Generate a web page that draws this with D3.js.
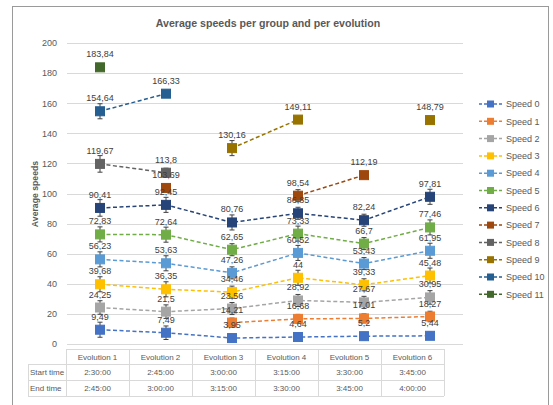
<!DOCTYPE html>
<html><head><meta charset="utf-8">
<script src="https://cdn.jsdelivr.net/npm/d3@7"></script>
<style>body{margin:0;background:#fff}svg{display:block}text{font-family:"Liberation Sans",Arial,sans-serif}</style>
</head><body><svg id="c" width="553" height="405"></svg>
<script>
const categories = ["Evolution 1","Evolution 2","Evolution 3","Evolution 4","Evolution 5","Evolution 6"];
const startTimes = ["2:30:00","2:45:00","3:00:00","3:15:00","3:30:00","3:45:00"];
const endTimes = ["2:45:00","3:00:00","3:15:00","3:30:00","3:45:00","4:00:00"];
const yTicks = [0,20,40,60,80,100,120,140,160,180,200];
const seriesNames = ["Speed 0","Speed 1","Speed 2","Speed 3","Speed 4","Speed 5","Speed 6","Speed 7","Speed 8","Speed 9","Speed 10","Speed 11"];
const seriesColors = ["#4472C4","#ED7D31","#A5A5A5","#FFC000","#5B9BD5","#70AD47","#264478","#9E480E","#636363","#997300","#255E91","#43682B"];
const speed0 = [9.49, 7.49, 3.95, 4.64, 5.2, 5.44];
const speed1 = [null, null, 14.21, 16.68, 17.01, 18.27];
const speed2 = [24.25, 21.5, 23.56, 28.92, 27.67, 30.95];
const speed3 = [39.68, 36.35, 34.46, 44, 39.33, 45.48];
const speed4 = [56.23, 53.63, 47.26, 60.52, 53.43, 61.95];
const speed5 = [72.83, 72.64, 62.65, 73.33, 66.7, 77.46];
const speed6 = [90.41, 92.45, 80.76, 86.85, 82.24, 97.81];
const speed7 = [null, 103.69, null, 98.54, 112.19, null];
const speed8 = [119.67, 113.8, null, null, null, null];
const speed9 = [null, null, 130.16, 149.11, null, 148.79];
const speed10 = [154.64, 166.33, null, null, null, null];
const speed11 = [183.84, null, null, null, null, null];
const err0 = [5, 4.5, 2.5, 2.5, 2.5, 2.5];
const err1 = [0, 0, 3, 3, 3, 3.5];
const err2 = [4.5, 4.5, 4, 4, 4, 4.5];
const err3 = [5, 5, 4, 5, 4, 5];
const err4 = [5, 5, 4, 5, 4, 5];
const err5 = [5, 5, 4, 5, 4, 5];
const err6 = [5.5, 5, 5, 4, 4, 5];
const err7 = [0, 0, 0, 4, 0, 0];
const err8 = [5.5, 3, 0, 0, 0, 0];
const err9 = [0, 0, 5, 0, 0, 0];
const err10 = [5, 0, 0, 0, 0, 0];
const err11 = [0, 0, 0, 0, 0, 0];

const seriesValues = [speed0,speed1,speed2,speed3,speed4,speed5,speed6,speed7,speed8,speed9,speed10,speed11];
const seriesErrors = [err0,err1,err2,err3,err4,err5,err6,err7,err8,err9,err10,err11];

const svg = d3.select("#c");
// chart border
svg.append("rect").attr("x",12.5).attr("y",6.5).attr("width",536).attr("height",420)
  .attr("fill","none").attr("stroke","#9a9a9a").attr("stroke-width",1);

const x = d3.scalePoint().domain(categories).range([67,463]).padding(0.5);
const y = d3.scaleLinear().domain([0,200]).range([344,43]);

// title
svg.append("text").attr("x",268).attr("y",27).attr("text-anchor","middle")
  .attr("font-size",10.6).attr("font-weight","bold").attr("fill","#595959")
  .text("Average speeds per group and per evolution");

// gridlines
svg.append("g").selectAll("line").data(yTicks).join("line")
  .attr("x1",67).attr("x2",463).attr("y1",d=>Math.round(y(d))+0.5).attr("y2",d=>Math.round(y(d))+0.5)
  .attr("stroke","#d9d9d9").attr("stroke-width",1);

// y axis labels
const yAxis = d3.axisLeft(y).tickValues(yTicks).tickSize(0).tickPadding(0);
const ya = svg.append("g").attr("transform","translate(57,0)").call(yAxis);
ya.select(".domain").remove();
ya.selectAll("text").attr("font-size",9).attr("fill","#595959").attr("font-family","Liberation Sans, Arial, sans-serif");

// y title
svg.append("text").attr("transform","translate(38,194) rotate(-90)").attr("text-anchor","middle")
  .attr("font-size",8.7).attr("font-weight","bold").attr("fill","#595959").text("Average speeds");

// series
const plot = svg.append("g");
seriesValues.forEach((vals,i)=>{
  const col = seriesColors[i];
  const pts = vals.map((v,j)=>({v, c:categories[j], e:seriesErrors[i][j]}));
  const line = d3.line().defined(d=>d.v!=null).x(d=>x(d.c)).y(d=>y(d.v));
  plot.append("path").datum(pts).attr("d",line).attr("fill","none")
    .attr("stroke",col).attr("stroke-width",1.5).attr("stroke-dasharray","4,2.5");
});
seriesValues.forEach((vals,i)=>{
  const col = seriesColors[i];
  const pts = vals.map((v,j)=>({v, c:categories[j], e:seriesErrors[i][j]})).filter(d=>d.v!=null);
  const g = plot.append("g");
  const eb = pts.filter(d=>d.e>0);
  g.selectAll("line.eb").data(eb).join("line").attr("class","eb")
    .attr("x1",d=>x(d.c)).attr("x2",d=>x(d.c)).attr("y1",d=>y(d.v+d.e)).attr("y2",d=>y(d.v-d.e))
    .attr("stroke","#404040").attr("stroke-width",1);
  ["+","-"].forEach(s=>{
    g.selectAll("line.cap"+(s=="+"?"a":"b")).data(eb).join("line").attr("class","cap"+(s=="+"?"a":"b"))
      .attr("x1",d=>x(d.c)-2.5).attr("x2",d=>x(d.c)+2.5)
      .attr("y1",d=>y(s=="+"?d.v+d.e:d.v-d.e)).attr("y2",d=>y(s=="+"?d.v+d.e:d.v-d.e))
      .attr("stroke","#404040").attr("stroke-width",1);
  });
  g.selectAll("rect").data(pts).join("rect")
    .attr("x",d=>x(d.c)-4.5).attr("y",d=>y(d.v)-4.5).attr("width",9).attr("height",9)
    .attr("fill",col).attr("stroke",col).attr("stroke-width",1);
});
// data labels
seriesValues.forEach((vals,i)=>{
  const pts = vals.map((v,j)=>({v, c:categories[j]})).filter(d=>d.v!=null);
  plot.append("g").selectAll("text").data(pts).join("text")
    .attr("x",d=>x(d.c)).attr("y",d=>y(d.v)-10).attr("text-anchor","middle")
    .attr("font-size",9).attr("fill","#404040")
    .text(d=>String(d.v).replace(".",","));
});

// data table
const tx = d3.scaleBand().domain(categories).range([66,444]);
const tbl = svg.append("g");
const rowsY = [349,364,380,396];
const gridCol = "#d9d9d9";
// horizontal lines
tbl.append("line").attr("x1",66).attr("x2",444).attr("y1",rowsY[0]+0.5).attr("y2",rowsY[0]+0.5).attr("stroke",gridCol);
[1,2,3].forEach(k=>{
  tbl.append("line").attr("x1",28).attr("x2",444).attr("y1",rowsY[k]+0.5).attr("y2",rowsY[k]+0.5).attr("stroke",gridCol);
});
// vertical lines
tbl.append("line").attr("x1",28.5).attr("x2",28.5).attr("y1",rowsY[1]).attr("y2",rowsY[3]).attr("stroke",gridCol);
const vxs = categories.map(c=>tx(c)).concat([444]);
tbl.selectAll("line.v").data(vxs).join("line").attr("class","v")
  .attr("x1",d=>Math.round(d)+0.5).attr("x2",d=>Math.round(d)+0.5).attr("y1",rowsY[0]).attr("y2",rowsY[3]).attr("stroke",gridCol);
const rowsData = [categories,startTimes,endTimes];
rowsData.forEach((row,r)=>{
  tbl.append("g").selectAll("text").data(row).join("text")
    .attr("x",(d,j)=>tx(categories[j])+tx.bandwidth()/2)
    .attr("y",(rowsY[r]+rowsY[r+1])/2+3)
    .attr("text-anchor","middle").attr("font-size",8).attr("fill","#595959").text(d=>d);
});
["Start time","End time"].forEach((t,k)=>{
  tbl.append("text").attr("x",30).attr("y",(rowsY[k+1]+rowsY[k+2])/2+3)
    .attr("font-size",8).attr("fill","#595959").text(t);
});

// legend
const lg = svg.append("g");
seriesNames.forEach((n,i)=>{
  const yy = 104 + i*17.3;
  const col = seriesColors[i];
  lg.append("line").attr("x1",479).attr("x2",502).attr("y1",yy).attr("y2",yy)
    .attr("stroke",col).attr("stroke-width",1.5).attr("stroke-dasharray","3,2");
  lg.append("rect").attr("x",487).attr("y",yy-3.5).attr("width",7).attr("height",7).attr("fill",col);
  lg.append("text").attr("x",506).attr("y",yy+3.2).attr("font-size",9).attr("fill","#595959").text(n);
});
</script></body></html>
